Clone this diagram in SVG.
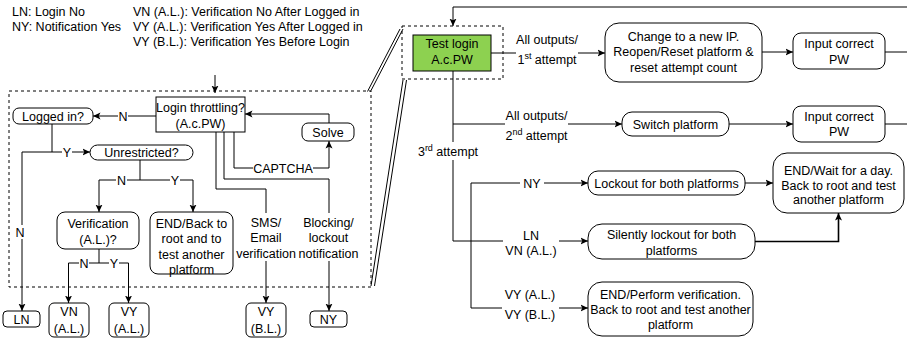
<svg xmlns="http://www.w3.org/2000/svg" width="907" height="339" viewBox="0 0 907 339">
  <style>
    text { font-family: "Liberation Sans", Arial, sans-serif; font-size: 12.5px; fill: #000; }
    .c { text-anchor: middle; }
    .box { fill: #fff; stroke: #000; stroke-width: 1; }
    .green { fill: #8dd150; stroke: #000; stroke-width: 1; }
    .dash { fill: none; stroke: #000; stroke-width: 1; stroke-dasharray: 3 3; }
    .ln { fill: none; stroke: #000; stroke-width: 1; }
    .edge { fill: none; stroke: #000; stroke-width: 1; marker-end: url(#arr); }
    .bg { fill: #fff; stroke: none; }
    .sup { font-size: 9px; }
  </style>
  <defs>
    <marker id="arr" markerUnits="userSpaceOnUse" markerWidth="8" markerHeight="8" viewBox="0 0 8 8" refX="7.5" refY="4" orient="auto">
      <path d="M0,0.5 L7.5,4 L0,7.5 L1.8,4 z" fill="#000"/>
    </marker>
  </defs>

  <rect width="907" height="339" fill="#fff"/>

  <!-- legend -->
  <g id="legend">
    <text x="12" y="16">LN: Login No</text>
    <text x="12" y="31">NY: Notification Yes</text>
    <text x="133" y="16">VN (A.L.): Verification No After Logged in</text>
    <text x="133" y="31">VY (A.L.): Verification Yes After Logged in</text>
    <text x="133" y="46">VY (B.L.): Verification Yes Before Login</text>
  </g>

  <!-- detail frame and zoom link -->
  <g id="detail-frame">
    <rect class="dash" x="9" y="91" width="362" height="196"/>
    <rect class="dash" x="402" y="26" width="101" height="53"/>
    <path class="ln" d="M367.5,91.5 L400,29 M370.5,91.5 L403,29"/>
    <path class="ln" d="M371,286 L403,80 M374.5,286 L406.5,80"/>
  </g>

  <!-- connectors -->
  <g id="connectors">
    <!-- left detail -->
    <path class="edge" d="M215,75 V93"/>
    <path class="edge" d="M156,116 H93"/>
    <path class="ln" d="M52,124 V152"/>
    <path class="edge" d="M52,152 H90"/>
    <path class="edge" d="M52,152 H22 V311"/>
    <path class="ln" d="M140,160 V180"/>
    <path class="edge" d="M140,180 H99 V212"/>
    <path class="edge" d="M140,180 H193 V212"/>
    <path class="ln" d="M99,249 V263"/>
    <path class="edge" d="M99,263 H68.5 V303"/>
    <path class="edge" d="M99,263 H128.5 V303"/>
    <path class="edge" d="M234,132 V168 H329 V141"/>
    <path class="edge" d="M329,123 V114 H245"/>
    <path class="edge" d="M224,132 V179 H329 V311"/>
    <path class="edge" d="M216,132 V189 H266 V303"/>

    <!-- right flow -->
    <path class="edge" d="M907,7 H453 V26"/>
    <path class="edge" d="M491,53 H605"/>
    <path class="edge" d="M762,52 H793"/>
    <path class="ln" d="M885,52 H907"/>
    <path class="edge" d="M453,71 V241 H588"/>
    <path class="edge" d="M453,124 H622"/>
    <path class="edge" d="M729,124 H793"/>
    <path class="ln" d="M885,124 H907"/>
    <path class="ln" d="M471,183 V308"/>
    <path class="edge" d="M471,183 H588"/>
    <path class="edge" d="M471,308 H588"/>
    <path class="edge" d="M745,183 H773"/>
    <path class="edge" d="M755,241.5 H838.5 V213" style="stroke-width:1.6"/>

    <!-- edge labels -->
    <rect class="bg" x="118" y="109" width="10" height="14"/>
    <text class="c" x="123" y="120.5">N</text>
    <rect class="bg" x="62" y="145" width="10" height="14"/>
    <text class="c" x="67" y="156.5">Y</text>
    <rect class="bg" x="15" y="225" width="10" height="14"/>
    <text class="c" x="20" y="236.5">N</text>
    <rect class="bg" x="116" y="173" width="11" height="14"/>
    <text class="c" x="121.5" y="184.5">N</text>
    <rect class="bg" x="170" y="173" width="10" height="14"/>
    <text class="c" x="175" y="184.5">Y</text>
    <rect class="bg" x="79" y="256" width="10" height="14"/>
    <text class="c" x="84" y="267.5">N</text>
    <rect class="bg" x="109" y="256" width="10" height="14"/>
    <text class="c" x="114" y="267.5">Y</text>
    <rect class="bg" x="253" y="161" width="60" height="14"/>
    <text class="c" x="283" y="172.5">CAPTCHA</text>
    <rect class="bg" x="236" y="213" width="60" height="48"/>
    <text class="c" x="266" y="226.5">SMS/</text>
    <text class="c" x="266" y="242">Email</text>
    <text class="c" x="266" y="257.5">verification</text>
    <rect class="bg" x="299" y="213" width="59" height="48"/>
    <text class="c" x="328.5" y="226.5">Blocking/</text>
    <text class="c" x="328.5" y="242">lockout</text>
    <text class="c" x="328.5" y="257.5">notification</text>

    <rect class="bg" x="516" y="31" width="62" height="36"/>
    <text class="c" x="547" y="43.5">All outputs/</text>
    <text class="c" x="547" y="64">1<tspan class="sup" dy="-5">st</tspan><tspan dy="5"> attempt</tspan></text>
    <rect class="bg" x="505" y="107" width="63" height="36"/>
    <text class="c" x="536.5" y="119.5">All outputs/</text>
    <text class="c" x="536.5" y="140">2<tspan class="sup" dy="-5">nd</tspan><tspan dy="5"> attempt</tspan></text>
    <rect class="bg" x="418" y="142" width="60" height="18"/>
    <text class="c" x="448" y="156">3<tspan class="sup" dy="-5">rd</tspan><tspan dy="5"> attempt</tspan></text>
    <rect class="bg" x="520" y="176" width="24" height="14"/>
    <text class="c" x="532" y="187.5">NY</text>
    <rect class="bg" x="503" y="228" width="56" height="30"/>
    <text class="c" x="531" y="239.5">LN</text>
    <text class="c" x="531" y="254.5">VN (A.L.)</text>
    <rect class="bg" x="502" y="286" width="57" height="37"/>
    <text class="c" x="530" y="298.5">VY (A.L.)</text>
    <text class="c" x="530" y="318.5">VY (B.L.)</text>
  </g>

  <!-- left detail nodes -->
  <g id="login-throttling">
    <rect class="box" x="156" y="97" width="89" height="35"/>
    <text class="c" x="200.5" y="112">Login throttling?</text>
    <text class="c" x="200.5" y="127.5">(A.c.PW)</text>
  </g>
  <g id="logged-in">
    <rect class="box" x="13" y="108" width="80" height="16" rx="6"/>
    <text class="c" x="53" y="120.5">Logged in?</text>
  </g>
  <g id="unrestricted">
    <rect class="box" x="90" y="145" width="103" height="15" rx="7.5"/>
    <text class="c" x="141.5" y="157">Unrestricted?</text>
  </g>
  <g id="solve">
    <rect class="box" x="302" y="123" width="52" height="18" rx="6"/>
    <text class="c" x="328" y="136.5">Solve</text>
  </g>
  <g id="verification">
    <rect class="box" x="57" y="212" width="82" height="37" rx="8"/>
    <text class="c" x="98" y="227.5">Verification</text>
    <text class="c" x="98" y="243.5">(A.L.)?</text>
  </g>
  <g id="end-back">
    <rect class="box" x="150" y="212" width="83" height="62" rx="8"/>
    <text class="c" x="191.5" y="227.5">END/Back to</text>
    <text class="c" x="191.5" y="243">root and to</text>
    <text class="c" x="191.5" y="258.5">test another</text>
    <text class="c" x="191.5" y="274">platform</text>
  </g>
  <g id="out-ln">
    <rect class="box" x="3" y="311" width="37" height="16" rx="4"/>
    <text class="c" x="21.5" y="323.5">LN</text>
  </g>
  <g id="out-vn-al">
    <rect class="box" x="49" y="303" width="40" height="34" rx="5"/>
    <text class="c" x="69" y="316">VN</text>
    <text class="c" x="69" y="332.5">(A.L.)</text>
  </g>
  <g id="out-vy-al">
    <rect class="box" x="109" y="303" width="40" height="34" rx="5"/>
    <text class="c" x="129" y="316">VY</text>
    <text class="c" x="129" y="332.5">(A.L.)</text>
  </g>
  <g id="out-vy-bl">
    <rect class="box" x="246" y="303" width="40" height="34" rx="5"/>
    <text class="c" x="266" y="316">VY</text>
    <text class="c" x="266" y="332.5">(B.L.)</text>
  </g>
  <g id="out-ny">
    <rect class="box" x="310" y="311" width="37" height="16" rx="4"/>
    <text class="c" x="328.5" y="323.5">NY</text>
  </g>

  <!-- right flow nodes -->
  <g id="test-login">
    <rect class="green" x="413" y="35" width="78" height="36"/>
    <text class="c" x="452" y="48">Test login</text>
    <text class="c" x="452" y="64">A.c.PW</text>
  </g>
  <g id="change-ip">
    <rect class="box" x="605" y="23" width="157" height="59" rx="14"/>
    <text class="c" x="683.5" y="40.5">Change to a new IP.</text>
    <text class="c" x="683.5" y="56">Reopen/Reset platform &amp;</text>
    <text class="c" x="683.5" y="72">reset attempt count</text>
  </g>
  <g id="input-pw-1">
    <rect class="box" x="793" y="33" width="92" height="36" rx="8"/>
    <text class="c" x="839" y="48">Input correct</text>
    <text class="c" x="839" y="64">PW</text>
  </g>
  <g id="switch-platform">
    <rect class="box" x="622" y="112" width="107" height="24" rx="10"/>
    <text class="c" x="675.5" y="128.5">Switch platform</text>
  </g>
  <g id="input-pw-2">
    <rect class="box" x="793" y="106" width="92" height="36" rx="8"/>
    <text class="c" x="839" y="120.5">Input correct</text>
    <text class="c" x="839" y="136">PW</text>
  </g>
  <g id="lockout-both">
    <rect class="box" x="588" y="171" width="157" height="24" rx="10"/>
    <text class="c" x="666.5" y="187.5">Lockout for both platforms</text>
  </g>
  <g id="end-wait">
    <rect class="box" x="773" y="153" width="131" height="60" rx="14"/>
    <text class="c" x="838.5" y="174.5">END/Wait for a day.</text>
    <text class="c" x="838.5" y="189.5">Back to root and test</text>
    <text class="c" x="838.5" y="204">another platform</text>
  </g>
  <g id="silent-lockout">
    <rect class="box" x="588" y="224" width="167" height="35" rx="14"/>
    <text class="c" x="671.5" y="238.5">Silently lockout for both</text>
    <text class="c" x="671.5" y="254.5">platforms</text>
  </g>
  <g id="end-verify">
    <rect class="box" x="588" y="282" width="165" height="54" rx="14"/>
    <text class="c" x="670.5" y="298.5">END/Perform verification.</text>
    <text class="c" x="670.5" y="313.5">Back to root and test another</text>
    <text class="c" x="670.5" y="328.5">platform</text>
  </g>
</svg>
